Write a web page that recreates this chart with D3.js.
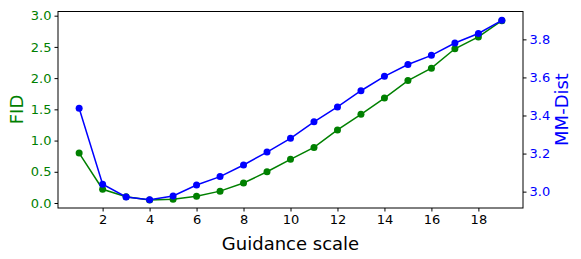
<!DOCTYPE html>
<html>
<head>
<meta charset="utf-8">
<script src="https://cdn.jsdelivr.net/npm/d3@7.9.0/dist/d3.min.js"></script>
<style>
  body { margin: 0; background: #fff; }
  svg { display: block; font-family: "DejaVu Sans", sans-serif; }
</style>
</head>
<body>
<svg width="581" height="259"></svg>
<script>
// Guidance scale values
const scales = [1, 2, 3, 4, 5, 6, 7, 8, 9, 10, 11, 12, 13, 14, 15, 16, 17, 18, 19];
// FID (left axis, green)
const fid = [0.80, 0.22, 0.10, 0.05, 0.06, 0.11, 0.19, 0.32, 0.50, 0.70, 0.89, 1.17, 1.42, 1.68, 1.96, 2.16, 2.47, 2.66, 2.92];
// MM-Dist (right axis, blue)
const mmDist = [3.438, 3.039, 2.972, 2.958, 2.977, 3.035, 3.079, 3.140, 3.208, 3.280, 3.367, 3.445, 3.530, 3.606, 3.668, 3.716, 3.781, 3.831, 3.900];
const xTicks = [2, 4, 6, 8, 10, 12, 14, 16, 18];
const fidTicks = [0, 0.5, 1, 1.5, 2, 2.5, 3];
const mmTicks = [3.0, 3.2, 3.4, 3.6, 3.8];

const green = '#008000', blue = '#0000ff';
const mLeft = 58, mRight = 523, mTop = 11, mBottom = 208;

const svg = d3.select('svg');

const x = d3.scaleLinear().domain([0.1, 19.9]).range([mLeft, mRight]);
const yL = d3.scaleLinear().domain([-0.08, 3.075]).range([mBottom, mTop]);
const yR = d3.scaleLinear().domain([2.914, 3.949]).range([mBottom, mTop]);

// Axes
const xAxis = svg.append('g').attr('transform', `translate(0,${mBottom})`)
  .call(d3.axisBottom(x).tickValues(xTicks).tickFormat(d3.format('d')).tickSize(3.5).tickPadding(3));
const lAxis = svg.append('g').attr('transform', `translate(${mLeft},0)`)
  .call(d3.axisLeft(yL).tickValues(fidTicks).tickFormat(d3.format('.1f')).tickSize(3.5).tickPadding(3));
const rAxis = svg.append('g').attr('transform', `translate(${mRight},0)`)
  .call(d3.axisRight(yR).tickValues(mmTicks).tickFormat(d3.format('.1f')).tickSize(3.5).tickPadding(3));

[xAxis, lAxis, rAxis].forEach(g => {
  g.select('.domain').remove();
  g.selectAll('text').attr('font-size', 13).attr('font-family', '"DejaVu Sans", sans-serif');
});
xAxis.selectAll('line').attr('stroke', '#000');
xAxis.selectAll('text').attr('fill', '#000');
lAxis.selectAll('line').attr('stroke', '#000');
lAxis.selectAll('text').attr('fill', green);
rAxis.selectAll('line').attr('stroke', '#000');
rAxis.selectAll('text').attr('fill', blue);

// Lines
const fidLine = d3.line().x((d, i) => x(scales[i])).y(d => yL(d));
const mmLine = d3.line().x((d, i) => x(scales[i])).y(d => yR(d));

svg.append('path').attr('d', fidLine(fid)).attr('fill', 'none')
  .attr('stroke', green).attr('stroke-width', 1.5);
svg.selectAll('.pf').data(fid).join('circle').attr('class', 'pf')
  .attr('cx', (d, i) => x(scales[i])).attr('cy', d => yL(d)).attr('r', 3.5).attr('fill', green);

svg.append('path').attr('d', mmLine(mmDist)).attr('fill', 'none')
  .attr('stroke', blue).attr('stroke-width', 1.5);
svg.selectAll('.pm').data(mmDist).join('circle').attr('class', 'pm')
  .attr('cx', (d, i) => x(scales[i])).attr('cy', d => yR(d)).attr('r', 3.5).attr('fill', blue);

// Frame
svg.append('rect').attr('x', mLeft).attr('y', mTop + 0.5)
  .attr('width', mRight - mLeft).attr('height', mBottom - mTop - 0.5)
  .attr('fill', 'none').attr('stroke', '#000').attr('stroke-width', 1);

// Axis labels
svg.append('text').attr('x', (mLeft + mRight) / 2).attr('y', 250)
  .attr('text-anchor', 'middle').attr('font-size', 18).attr('fill', '#000')
  .text('Guidance scale');
svg.append('text').attr('transform', `translate(23,${(mTop + mBottom) / 2}) rotate(-90)`)
  .attr('text-anchor', 'middle').attr('font-size', 18).attr('fill', green)
  .text('FID');
svg.append('text').attr('transform', `translate(568,${(mTop + mBottom) / 2}) rotate(-90)`)
  .attr('text-anchor', 'middle').attr('font-size', 18).attr('fill', blue)
  .text('MM-Dist');
</script>
</body>
</html>
